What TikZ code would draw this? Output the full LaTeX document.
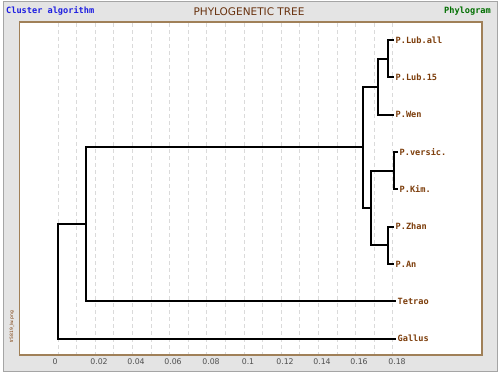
\documentclass[tikz,border=0pt]{standalone}
\usepackage{fontspec}
\setmainfont{DejaVu Sans}
\newfontfamily\monobold{DejaVu Sans Mono}[BoldFont={DejaVu Sans Mono Bold}]
\definecolor{panelgrey}{RGB}{228,228,228}
\definecolor{paneledge}{RGB}{165,165,165}
\definecolor{plotedge}{RGB}{160,128,88}
\definecolor{gridgrey}{RGB}{218,218,218}
\definecolor{leafbrown}{RGB}{125,62,12}
\definecolor{titlebrown}{RGB}{105,50,15}
\definecolor{algblue}{RGB}{30,30,225}
\definecolor{phygreen}{RGB}{0,110,0}
\definecolor{axisgrey}{RGB}{80,80,80}
\tikzset{
  branch/.style={black,line width=1.9pt,line cap=rect},
  leaf/.style={anchor=west,inner xsep=2.5pt,inner ysep=0pt,text=leafbrown,font=\monobold\bfseries\fontsize{8.6}{9}\selectfont},
  axislabel/.style={text=axisgrey,font=\fontsize{7.8}{8}\selectfont,inner sep=0pt},
  gridline/.style={gridgrey,line width=0.7pt,dash pattern=on 4pt off 3pt},
}
\begin{document}
\begin{tikzpicture}[x=1pt,y=-1pt]
\useasboundingbox (0,0) rectangle (500,375);
\fill[white] (0,0) rectangle (500,375);
% outer panel
\draw[paneledge,fill=panelgrey,line width=1pt] (3,1) rectangle (497,371);
% plot area
\draw[plotedge,fill=white,line width=1.5pt] (19.5,22) rectangle (482,355);
% grid
\foreach \k in {0,...,18} {
  \draw[gridline] ({58+18.6*\k},23) -- ({58+18.6*\k},354);
}
% titles
\node[anchor=west,inner sep=0pt,text=algblue,font=\monobold\bfseries\fontsize{8.6}{9}\selectfont] (alg) at (6,11) {Cluster algorithm};
\node[inner sep=0pt,text=titlebrown,font=\fontsize{10.5}{11}\selectfont] (title) at (249,12) {PHYLOGENETIC TREE};
\node[anchor=east,inner sep=0pt,text=phygreen,font=\monobold\bfseries\fontsize{8.6}{9}\selectfont] (phy) at (491,11) {Phylogram};
% file name
\node[rotate=90,inner sep=0pt,text=leafbrown,font=\fontsize{4.5}{5}\selectfont] (fname) at (12,327) {tr5819\_lw.png};
% axis labels
\node[axislabel] (t0) at (55,362) {0};
\node[axislabel] (t2) at (99,362) {0.02};
\node[axislabel] (t4) at (136,362) {0.04};
\node[axislabel] (t6) at (173,362) {0.06};
\node[axislabel] (t8) at (211,362) {0.08};
\node[axislabel] (t10) at (248,362) {0.1};
\node[axislabel] (t12) at (285,362) {0.12};
\node[axislabel] (t14) at (322,362) {0.14};
\node[axislabel] (t16) at (359,362) {0.16};
\node[axislabel] (t18) at (397,362) {0.18};
% leaves
\node[leaf] (lall) at (393,40) {P.Lub.all};
\node[leaf] (l15) at (393,77.3) {P.Lub.15};
\node[leaf] (wen) at (393,114.6) {P.Wen};
\node[leaf] (vers) at (397,152) {P.versic.};
\node[leaf] (kim) at (397,189.3) {P.Kim.};
\node[leaf] (zhan) at (393,226.6) {P.Zhan};
\node[leaf] (an) at (393,264) {P.An};
\node[leaf] (tet) at (395,301.3) {Tetrao};
\node[leaf] (gal) at (395,338.6) {Gallus};
% internal nodes
\coordinate (n1) at (388,58.6);
\coordinate (n2) at (378,86.6);
\coordinate (n3) at (394,170.6);
\coordinate (n4) at (388,245.3);
\coordinate (n5) at (371,208);
\coordinate (n6) at (363,147.3);
\coordinate (n7) at (86,224.3);
\coordinate (root) at (58,281.5);
% branches
\draw[branch] (n1) |- (lall.west);
\draw[branch] (n1) |- (l15.west);
\draw[branch] (n2) |- (n1);
\draw[branch] (n2) |- (wen.west);
\draw[branch] (n3) |- (vers.west);
\draw[branch] (n3) |- (kim.west);
\draw[branch] (n4) |- (zhan.west);
\draw[branch] (n4) |- (an.west);
\draw[branch] (n5) |- (n3);
\draw[branch] (n5) |- (n4);
\draw[branch] (n6) |- (n2);
\draw[branch] (n6) |- (n5);
\draw[branch] (n7) |- (n6);
\draw[branch] (n7) |- (tet.west);
\draw[branch] (root) |- (n7);
\draw[branch] (root) |- (gal.west);
\end{tikzpicture}
\end{document}
